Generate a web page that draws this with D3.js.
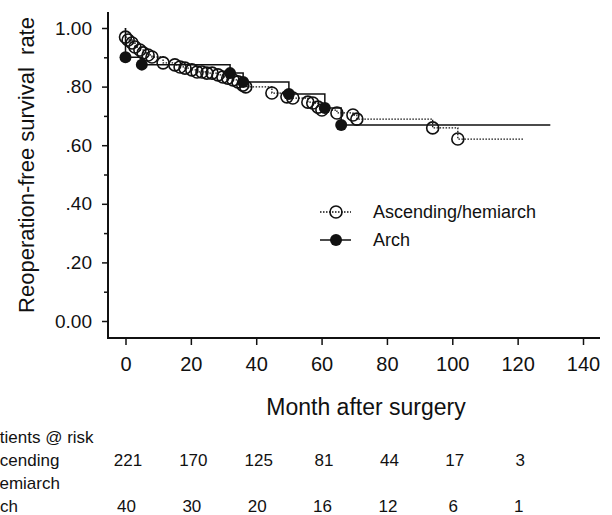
<!DOCTYPE html>
<meta charset="utf-8">
<style>
body { margin: 0; background: #fff; }
svg { font-family: "Liberation Sans", Arial, sans-serif; }
.axis path, .axis line { stroke: #111; }
.axis text { fill: #111; }
</style>
<svg width="612" height="515"></svg>
<script src="https://d3js.org/d3.v7.min.js"></script>
<script>

// Ascending/hemiarch: censoring marks along the curve (month, survival)
var ascMonths = [0, 0, 0.8, 2, 2.9, 4.4, 5.4, 6.9, 8.1, 11.5, 15.1, 16.7, 18.2, 20.3, 21.9, 23.4,
  24.9, 26.5, 28.3, 29.8, 31.3, 32.9, 34.4, 35.9, 36.8, 44.8, 49.4, 51.2, 55.8, 57.3, 58.9,
  60.1, 64.7, 69.6, 70.8, 94, 101.7, 122];
var ascSurv = [1, 0.969, 0.959, 0.949, 0.935, 0.925, 0.915, 0.908, 0.901, 0.881, 0.874, 0.867,
  0.863, 0.857, 0.85, 0.85, 0.846, 0.846, 0.84, 0.833, 0.829, 0.823, 0.816, 0.805, 0.799,
  0.778, 0.765, 0.761, 0.747, 0.744, 0.73, 0.72, 0.71, 0.703, 0.689, 0.659, 0.621, 0.621];

// Arch: events (month, survival after step)
var archMonths = [0, 0, 5, 32, 36, 50, 61, 66, 130];
var archSurv = [1, 0.90, 0.875, 0.846, 0.816, 0.775, 0.727, 0.669, 0.669];

var xTicks = [0, 20, 40, 60, 80, 100, 120, 140];
var yTicks = [0, 0.2, 0.4, 0.6, 0.8, 1.0];
var yTickLabels = ["0.00", ".20", ".40", ".60", ".80", "1.00"];
var yMinor = [0.1, 0.3, 0.5, 0.7, 0.9];

var riskMonths = [0, 20, 40, 60, 80, 100, 120];
var riskAsc = [221, 170, 125, 81, 44, 17, 3];
var riskArch = [40, 30, 20, 16, 12, 6, 1];

var svg = d3.select("svg");

var x = d3.scaleLinear().domain([0, 140]).range([125.5, 583]);
var y = d3.scaleLinear().domain([0, 1]).range([321, 28]);

// axes
svg.append("line")
  .attr("x1", 108).attr("x2", 108).attr("y1", 12).attr("y2", 338)
  .attr("stroke", "#111").attr("stroke-width", 2);
svg.append("line")
  .attr("x1", 107).attr("x2", 600).attr("y1", 338).attr("y2", 338)
  .attr("stroke", "#111").attr("stroke-width", 2);

var gx = svg.append("g")
  .attr("class", "axis")
  .attr("transform", "translate(0,338)")
  .call(d3.axisBottom(x).tickValues(xTicks).tickSize(7).tickSizeOuter(0).tickPadding(12));
gx.select(".domain").remove();
gx.selectAll("line").attr("stroke-width", 1.5);
gx.selectAll("text").attr("font-size", 20);

var gy = svg.append("g")
  .attr("class", "axis")
  .attr("transform", "translate(108,0)")
  .call(d3.axisLeft(y).tickValues(yTicks).tickSize(6).tickSizeOuter(0).tickPadding(10)
    .tickFormat(function(d, i) { return yTickLabels[i]; }));
gy.select(".domain").remove();
gy.selectAll("line").attr("stroke-width", 1.5);
gy.selectAll("text").attr("font-size", 19);

var gm = svg.append("g")
  .attr("class", "axis")
  .attr("transform", "translate(108,0)")
  .call(d3.axisLeft(y).tickValues(yMinor).tickSize(4).tickSizeOuter(0).tickFormat(""));
gm.select(".domain").remove();
gm.selectAll("line").attr("stroke-width", 1.5);

svg.append("text")
  .attr("x", 366).attr("y", 415)
  .attr("text-anchor", "middle").attr("font-size", 23).attr("fill", "#111")
  .text("Month after surgery");

svg.append("text")
  .attr("transform", "translate(34,165) rotate(-90)")
  .attr("text-anchor", "middle").attr("font-size", 22).attr("fill", "#111")
  .attr("xml:space", "preserve")
  .text("Reoperation-free survival  rate");

// curves
var stepLine = d3.line()
  .x(function(d) { return x(d[0]); })
  .y(function(d) { return y(d[1]); })
  .curve(d3.curveStepAfter);

var ascData = ascMonths.map(function(m, i) { return [m, ascSurv[i]]; });
var archData = archMonths.map(function(m, i) { return [m, archSurv[i]]; });

svg.append("path")
  .datum(ascData)
  .attr("fill", "none").attr("stroke", "#111").attr("stroke-width", 1.3)
  .attr("stroke-dasharray", "1.5,1.5")
  .attr("d", stepLine);

svg.append("path")
  .datum(archData)
  .attr("fill", "none").attr("stroke", "#111").attr("stroke-width", 1.5)
  .attr("d", stepLine);

svg.append("g").selectAll("circle")
  .data(ascData.slice(1, -1))
  .enter().append("circle")
    .attr("cx", function(d) { return x(d[0]); })
    .attr("cy", function(d) { return y(d[1]); })
    .attr("r", 6)
    .attr("fill", "none").attr("stroke", "#111").attr("stroke-width", 1.6);

svg.append("g").selectAll("circle")
  .data(archData.slice(1, -1))
  .enter().append("circle")
    .attr("cx", function(d) { return x(d[0]); })
    .attr("cy", function(d) { return y(d[1]); })
    .attr("r", 6)
    .attr("fill", "#111");

// legend
var lg = svg.append("g").attr("transform", "translate(320,212)");
lg.append("line").attr("x1", 0).attr("x2", 31).attr("y1", 0).attr("y2", 0)
  .attr("stroke", "#111").attr("stroke-width", 1.3).attr("stroke-dasharray", "1.5,1.5");
lg.append("circle").attr("cx", 16).attr("cy", 0).attr("r", 6)
  .attr("fill", "none").attr("stroke", "#111").attr("stroke-width", 1.6);
lg.append("text").attr("x", 53).attr("y", 6).attr("font-size", 18).attr("fill", "#111")
  .text("Ascending/hemiarch");
lg.append("line").attr("x1", 0).attr("x2", 31).attr("y1", 28).attr("y2", 28)
  .attr("stroke", "#111").attr("stroke-width", 1.5);
lg.append("circle").attr("cx", 16).attr("cy", 28).attr("r", 6).attr("fill", "#111");
lg.append("text").attr("x", 53).attr("y", 34).attr("font-size", 18).attr("fill", "#111")
  .text("Arch");

// patients at risk table (columns line up with the month axis)
var rt = svg.append("g").attr("font-size", 17).attr("fill", "#111");
rt.append("text").attr("x", -21).attr("y", 443).text("Patients @ risk");
rt.append("text").attr("x", -20).attr("y", 466).text("Ascending");
rt.append("text").attr("x", -10).attr("y", 489).text("hemiarch");
rt.append("text").attr("x", -17).attr("y", 512).text("Arch");

rt.selectAll(".asc")
  .data(riskAsc)
  .enter().append("text")
    .attr("class", "asc")
    .attr("x", function(d, i) { return x(riskMonths[i]) + 2.5; })
    .attr("y", 466)
    .attr("text-anchor", "middle")
    .text(function(d) { return d; });

rt.selectAll(".arch")
  .data(riskArch)
  .enter().append("text")
    .attr("class", "arch")
    .attr("x", function(d, i) { return x(riskMonths[i]) + 1; })
    .attr("y", 512)
    .attr("text-anchor", "middle")
    .text(function(d) { return d; });

</script>
